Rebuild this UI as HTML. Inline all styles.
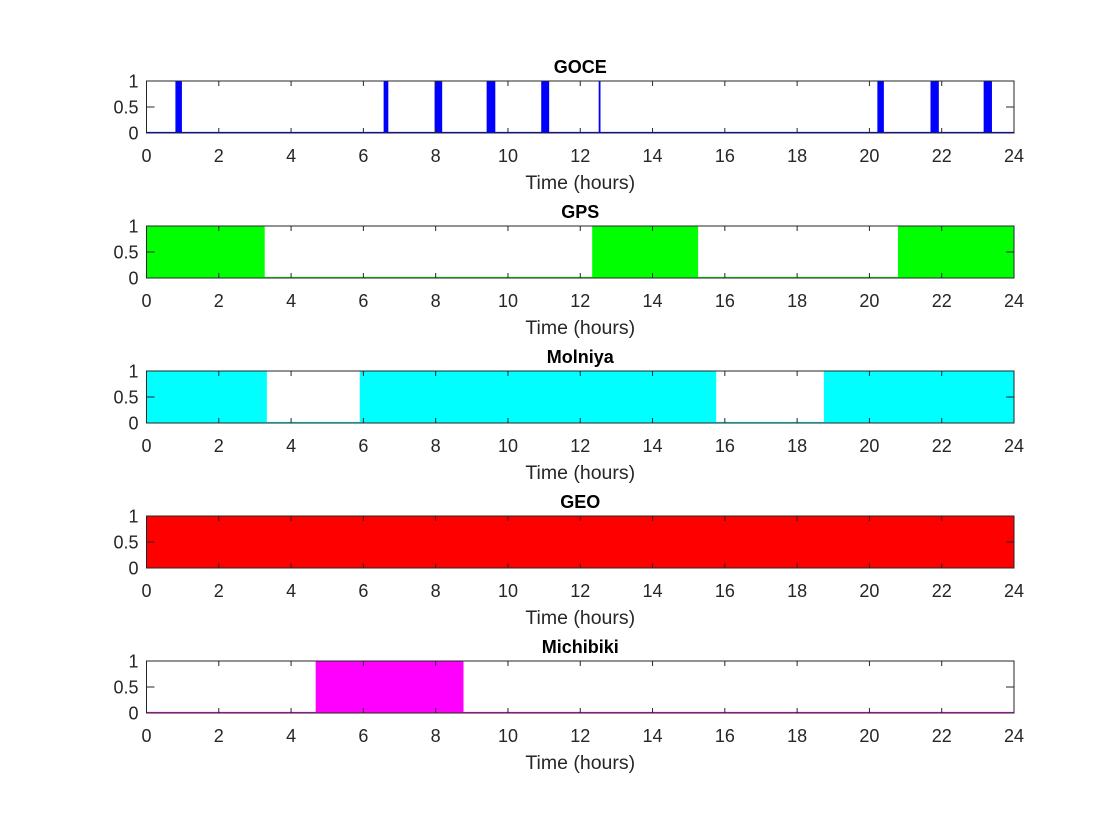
<!DOCTYPE html>
<html><head><meta charset="utf-8"><style>
body{margin:0;background:#fff}
svg{display:block;font-family:"Liberation Sans",Arial,sans-serif}
</style></head><body>
<svg id="fig" width="1120" height="840" viewBox="0 0 1120 840" xmlns="http://www.w3.org/2000/svg"></svg>
<script>
const names = ["GOCE","GPS","Molniya","GEO","Michibiki"];
const colors = ["#0000ff","#00ff00","#00ffff","#ff0000","#ff00ff"];
const gocePeriods = [[0.80,0.98],[6.56,6.69],[7.97,8.18],[9.41,9.65],[10.92,11.14],[12.51,12.56],[20.22,20.40],[21.69,21.92],[23.16,23.39]];
const gpsPeriods = [[0,3.27],[12.33,15.26],[20.79,24]];
const molniyaPeriods = [[0,3.33],[5.9,15.76],[18.74,24]];
const geoPeriods = [[0,24]];
const michibikiPeriods = [[4.68,8.77]];
const allPeriods = [gocePeriods,gpsPeriods,molniyaPeriods,geoPeriods,michibikiPeriods];
const xTicks = [0,2,4,6,8,10,12,14,16,18,20,22,24];
const yTicks = [0,0.5,1];
const yTickLabels = ["0","0.5","1"];

const NS="http://www.w3.org/2000/svg";
const svg=document.getElementById('fig');
const L=146.5,R=1014,H=52;
const tops=[81,226,371,516,661];
function mk(tag,attrs,parent){const e=document.createElementNS(NS,tag);for(const k in attrs)e.setAttribute(k,attrs[k]);(parent||svg).appendChild(e);return e;}
const xs=v=>L+(v/24)*(R-L);
names.forEach((nm,i)=>{
  const top=tops[i],bot=top+H;
  const ys=v=>bot-v*H;
  const g=mk('g',{});
  
  
  const bg=mk('rect',{x:L,y:top,width:R-L,height:H,fill:'#fff'},g);
  
  
  const base=mk('line',{x1:L,x2:R,y1:ys(0)-0.5,y2:ys(0)-0.5,stroke:colors[i],'stroke-width':1.2},g);
  
  
  allPeriods[i].forEach((p,j)=>{
    const w=Math.max(xs(p[1])-xs(p[0]),1.5);
    const r=mk('rect',{x:xs(p[0]),y:ys(1),width:w,height:ys(0)-ys(1),fill:colors[i]},g);
    
    
  });
  const fr=mk('rect',{x:L,y:top,width:R-L,height:H,fill:'none',stroke:'#262626','stroke-width':1},g);
  
  
  xTicks.forEach(t=>{
    mk('line',{x1:xs(t),x2:xs(t),y1:bot,y2:bot-5,stroke:'#262626'},g);
    mk('line',{x1:xs(t),x2:xs(t),y1:top,y2:top+5,stroke:'#262626'},g);
    const tx=mk('text',{x:xs(t),y:bot+29,'text-anchor':'middle','font-size':18,fill:'#262626'},g);
    tx.textContent=t;
    
    
  });
  yTicks.forEach((t,k)=>{
    mk('line',{x1:L,x2:L+8,y1:ys(t),y2:ys(t),stroke:'#262626'},g);
    mk('line',{x1:R,x2:R-8,y1:ys(t),y2:ys(t),stroke:'#262626'},g);
    const ty=mk('text',{x:L-8,y:ys(t)+6.5,'text-anchor':'end','font-size':18,fill:'#262626'},g);
    ty.textContent=yTickLabels[k];
    
    
  });
  const ti=mk('text',{x:(L+R)/2,y:top-8,'text-anchor':'middle','font-size':18,'font-weight':'bold',fill:'#000'},g);
  ti.textContent=nm;
  
  
  const xl=mk('text',{x:(L+R)/2,y:bot+56,'text-anchor':'middle','font-size':19.5,fill:'#262626'},g);
  xl.textContent='Time (hours)';
  
  
});
</script>
</body></html>
